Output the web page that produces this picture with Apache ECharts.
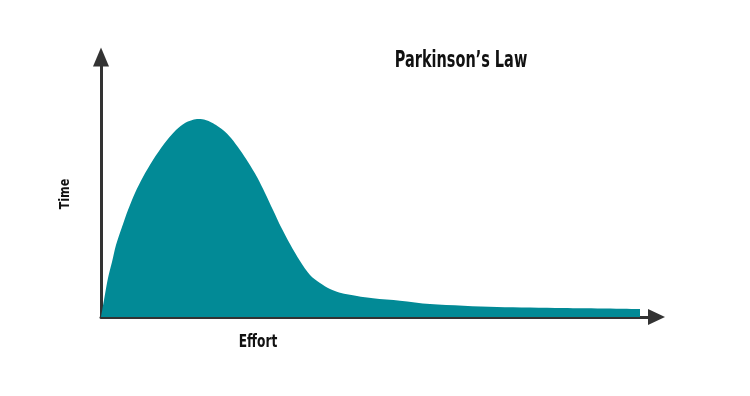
<!DOCTYPE html>
<html><head><meta charset="utf-8">
<script src="https://cdn.jsdelivr.net/npm/echarts@6/dist/echarts.min.js"></script>
<style>html,body{margin:0;padding:0;background:#fff}#c{width:750px;height:396px}</style>
</head><body><div id="c"></div>
<script>
const titleText = 'Parkinson’s Law';
const xAxisName = 'Effort';
const yAxisName = 'Time';
const effort = [0, 3, 7, 11, 15, 21, 27, 34, 42, 52, 63, 75, 84, 90, 96, 103, 109, 115, 122, 130, 139, 147, 156, 164, 172, 180, 189, 199, 209, 219, 229, 239, 256, 272, 299, 329, 396, 462, 539];
const time   = [0, 17, 39, 55, 72, 90, 107, 124, 140, 157, 173, 187, 194, 196.5, 198, 197.5, 195.3, 192, 187, 179, 167, 155, 140, 124, 107, 90, 73, 56, 42, 34, 28, 24.3, 21, 18.7, 16.3, 13, 10, 9, 8];

const font = '"DejaVu Sans",sans-serif';
const chart = echarts.init(document.getElementById('c'));
chart.setOption({
  animation: false,
  grid: {left: 101, top: 57, right: 93.5, bottom: 79},
  xAxis: {
    type: 'value', min: 0, max: 555.5,
    axisLine: {show: true, lineStyle: {color: '#333333', width: 3}, symbol: ['none', 'triangle'], symbolSize: [16, 17]},
    axisTick: {show: false}, axisLabel: {show: false}, splitLine: {show: false}
  },
  yAxis: {
    type: 'value', min: 0, max: 260,
    axisLine: {show: true, lineStyle: {color: '#333333', width: 3}, symbol: ['none', 'triangle'], symbolSize: [16, 19]},
    axisTick: {show: false}, axisLabel: {show: false}, splitLine: {show: false}
  },
  series: [{
    type: 'line', smooth: 0.3, showSymbol: false, z: 1,
    data: effort.map((e, i) => [e, time[i]]),
    lineStyle: {width: 0, color: '#028a96'},
    areaStyle: {color: '#028a96', opacity: 1}
  }],
  graphic: [
    {type: 'text', x: 461, y: 61, scaleX: 0.63, style: {text: titleText, font: 'bold 23px ' + font, fill: '#111', align: 'center', verticalAlign: 'middle'}},
    {type: 'text', x: 65, y: 194, rotation: Math.PI / 2, scaleX: 0.8, style: {text: yAxisName, font: 'bold 14px ' + font, fill: '#111', align: 'center', verticalAlign: 'middle'}},
    {type: 'text', x: 258, y: 343, scaleX: 0.72, style: {text: xAxisName, font: 'bold 17px ' + font, fill: '#111', align: 'center', verticalAlign: 'middle'}}
  ]
});
</script></body></html>
